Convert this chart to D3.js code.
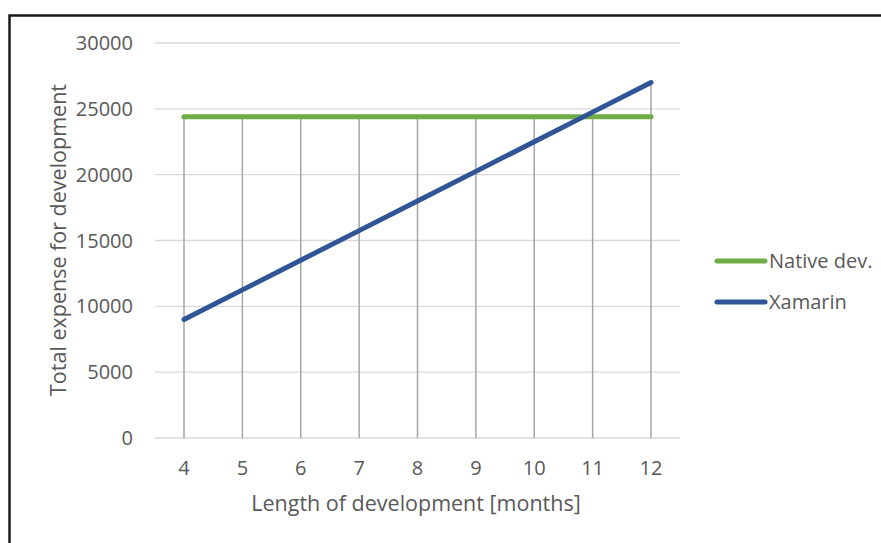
<!DOCTYPE html>
<html>
<head>
<meta charset="utf-8">
<script src="https://cdn.jsdelivr.net/npm/d3@7"></script>
<style>
  body { margin: 0; background: #fff; }
  text { font-family: "Open Sans", sans-serif; fill: #595959; }
</style>
</head>
<body>
<div id="chart"></div>
<script>
// data
var months = [4, 5, 6, 7, 8, 9, 10, 11, 12];
var nativeDev = [24400, 24400, 24400, 24400, 24400, 24400, 24400, 24400, 24400];
var xamarin = [9000, 11250, 13500, 15750, 18000, 20250, 22500, 24750, 27000];
var yTicks = [0, 5000, 10000, 15000, 20000, 25000, 30000];
var seriesNames = ["Native dev.", "Xamarin"];
var seriesColors = ["#70ad47", "#2f5597"];

var width = 881, height = 543;

var svg = d3.select("#chart").append("svg")
    .attr("width", width)
    .attr("height", height);

// frame
svg.append("rect")
    .attr("x", 9.5).attr("y", 15.5)
    .attr("width", 900).attr("height", 600)
    .attr("fill", "none")
    .attr("stroke", "#1a1a1a")
    .attr("stroke-width", 2.5);

var x = d3.scaleLinear().domain([4, 12]).range([184, 651]);
var y = d3.scaleLinear().domain([0, 30000]).range([438, 43]);
var gridLeft = 155, gridRight = 680;

// horizontal gridlines
svg.selectAll(".grid")
    .data(yTicks.slice(1))
    .enter()
    .append("line")
    .attr("x1", gridLeft).attr("x2", gridRight)
    .attr("y1", function (d) { return y(d); })
    .attr("y2", function (d) { return y(d); })
    .attr("stroke", "#d9d9d9")
    .attr("stroke-width", 1.3);

// x axis line
svg.append("line")
    .attr("x1", gridLeft).attr("x2", gridRight)
    .attr("y1", y(0)).attr("y2", y(0))
    .attr("stroke", "#d9d9d9")
    .attr("stroke-width", 1.3);

// y tick labels
svg.selectAll(".ylab")
    .data(yTicks)
    .enter()
    .append("text")
    .attr("x", 133)
    .attr("y", function (d) { return y(d) + 7; })
    .attr("text-anchor", "end")
    .attr("font-size", "20px")
    .text(function (d) { return d; });

// x tick labels
svg.selectAll(".xlab")
    .data(months)
    .enter()
    .append("text")
    .attr("x", function (d) { return x(d); })
    .attr("y", 475)
    .attr("text-anchor", "middle")
    .attr("font-size", "20px")
    .text(function (d) { return d; });

// drop lines (from the higher point down to the axis)
svg.selectAll(".drop")
    .data(months)
    .enter()
    .append("line")
    .attr("x1", function (d) { return x(d); })
    .attr("x2", function (d) { return x(d); })
    .attr("y1", function (d, i) { return y(Math.max(nativeDev[i], xamarin[i])); })
    .attr("y2", y(0))
    .attr("stroke", "#a5a5a5")
    .attr("stroke-width", 1.5);

// series lines
var line = d3.line()
    .x(function (d) { return x(d[0]); })
    .y(function (d) { return y(d[1]); });

[nativeDev, xamarin].forEach(function (vals, k) {
    svg.append("path")
        .datum(months.map(function (m, i) { return [m, vals[i]]; }))
        .attr("d", line)
        .attr("fill", "none")
        .attr("stroke", seriesColors[k])
        .attr("stroke-width", 5)
        .attr("stroke-linecap", "round")
        .attr("stroke-linejoin", "round");
});

// legend
var legend = svg.selectAll(".legend")
    .data(seriesNames)
    .enter()
    .append("g")
    .attr("transform", function (d, i) { return "translate(717," + (261 + i * 41) + ")"; });

legend.append("line")
    .attr("x1", 0).attr("x2", 48)
    .attr("stroke", function (d, i) { return seriesColors[i]; })
    .attr("stroke-width", 5)
    .attr("stroke-linecap", "round");

legend.append("text")
    .attr("x", 52).attr("y", 7)
    .attr("font-size", "20px")
    .text(function (d) { return d; });

// axis titles
svg.append("text")
    .attr("x", 416).attr("y", 511)
    .attr("text-anchor", "middle")
    .attr("font-size", "21.5px")
    .text("Length of development [months]");

svg.append("text")
    .attr("transform", "translate(66,240) rotate(-90)")
    .attr("text-anchor", "middle")
    .attr("font-size", "21.5px")
    .text("Total expense for development");
</script>
</body>
</html>
